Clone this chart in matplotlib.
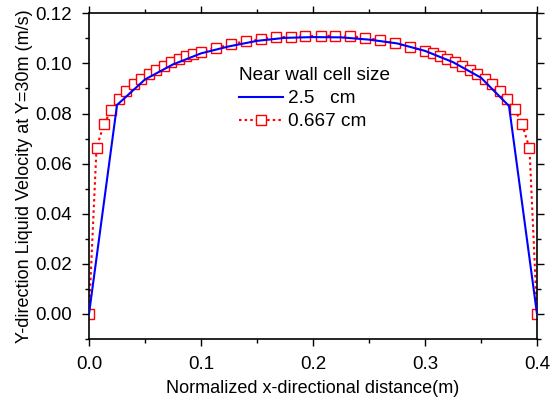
import matplotlib
matplotlib.use("Agg")
import matplotlib.pyplot as plt
from matplotlib.ticker import MultipleLocator, FormatStrFormatter
import numpy as np

plt.rcParams['font.family'] = ['Liberation Sans', 'DejaVu Sans']

# Series 1: 2.5 cm near-wall cell
x_coarse = [0.0, 0.025, 0.05, 0.075, 0.1, 0.125, 0.15, 0.175, 0.2, 0.225,
            0.25, 0.275, 0.3, 0.325, 0.35, 0.375, 0.4]
v_coarse = [0.0, 0.0834, 0.0936, 0.0996, 0.1040, 0.1068, 0.1090, 0.1102, 0.1105,
            0.1104, 0.1095, 0.1080, 0.1050, 0.1005, 0.0943, 0.0830, 0.0]

# Series 2: 0.667 cm near-wall cell
x_fine = [0.0, 0.0067, 0.0133, 0.02, 0.0267, 0.0333, 0.04, 0.0467, 0.0533, 0.06,
          0.0667, 0.0733, 0.08, 0.0867, 0.0933, 0.1, 0.1133, 0.1267, 0.14, 0.1533,
          0.1667, 0.18, 0.1933, 0.2067, 0.22, 0.2333, 0.2467, 0.26, 0.2733, 0.2867,
          0.3, 0.3067, 0.3133, 0.32, 0.3267, 0.3333, 0.34, 0.3467, 0.3533, 0.36,
          0.3667, 0.3733, 0.38, 0.3867, 0.3933, 0.4]
v_fine = [0.0, 0.0662, 0.0758, 0.0814, 0.0856, 0.0890, 0.0916, 0.0937, 0.0956, 0.0973,
          0.0989, 0.1004, 0.1017, 0.1029, 0.1037, 0.1045, 0.1062, 0.1077, 0.1088, 0.1097,
          0.1105, 0.1106, 0.1109, 0.1110, 0.1110, 0.1109, 0.1102, 0.1093, 0.1080, 0.1065,
          0.1050, 0.1040, 0.1029, 0.1016, 0.1006, 0.0989, 0.0973, 0.0956, 0.0937, 0.0916,
          0.0890, 0.0856, 0.0817, 0.0758, 0.0661, 0.0]

legend_title = "Near wall cell size"
label_coarse = "2.5   cm"
label_fine = "0.667 cm"
xlabel = "Normalized x-directional distance(m)"
ylabel = "Y-direction Liquid Velocity at Y=30m (m/s)"

fig = plt.figure(figsize=(5.59, 4.0), dpi=100)
ax = fig.add_axes([89/559, 1-339/400, (537-89)/559, (339-13.3)/400])

ax.plot(x_coarse, v_coarse, color='#0000ff', lw=1.5, label=label_coarse, zorder=3)
ax.plot(x_fine, v_fine, color='#ff0000', lw=1.5, ls=(0, (1.2, 1.5)), marker='s',
        markersize=7, markerfacecolor='white', markeredgecolor='#ff0000',
        markeredgewidth=1.0, label=label_fine, zorder=2)

ax.set_xlim(0, 0.4)
ax.set_ylim(-0.01, 0.12)
ax.xaxis.set_major_locator(MultipleLocator(0.1))
ax.xaxis.set_minor_locator(MultipleLocator(0.05))
ax.yaxis.set_major_locator(MultipleLocator(0.02))
ax.yaxis.set_minor_locator(MultipleLocator(0.01))
ax.xaxis.set_major_formatter(FormatStrFormatter('%.1f'))
ax.yaxis.set_major_formatter(FormatStrFormatter('%.2f'))
ax.tick_params(which='both', direction='out', top=True, right=True, labelsize=13.5, width=1.0)
ax.tick_params(which='major', length=5)
ax.tick_params(axis='x', which='major', pad=7.5)
ax.tick_params(axis='y', which='major', pad=7)
ax.tick_params(which='minor', length=3)
for s in ax.spines.values():
    s.set_linewidth(1.2)

ax.set_xlabel(xlabel, fontsize=13, labelpad=5)
ax.set_ylabel(ylabel, fontsize=13, labelpad=2)

leg = ax.legend(title=legend_title, frameon=False, fontsize=13.7, title_fontsize=13.7,
                loc='upper left', bbox_to_anchor=(0.305, 0.875), handlelength=2.3,
                handletextpad=0.3, labelspacing=0.3, borderpad=0.2)
leg._legend_box.align = "left"

fig.savefig("out.png", dpi=100)
